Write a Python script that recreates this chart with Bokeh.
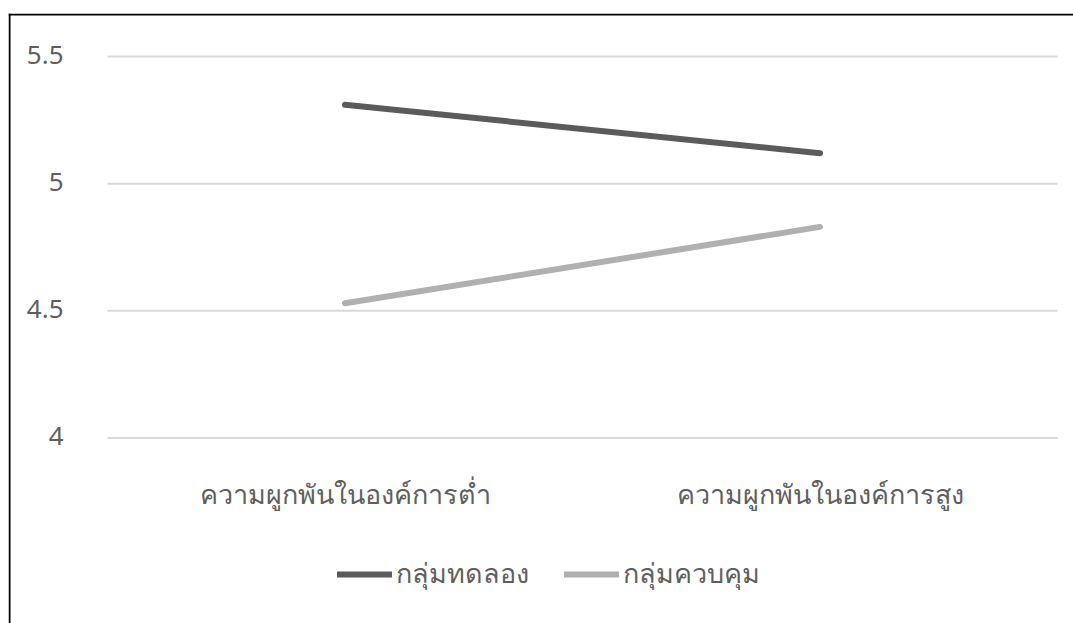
from bokeh.plotting import figure
from bokeh.models import Range1d, Legend, LegendItem, Grid
from bokeh.core.properties import value
from bokeh.embed import file_html
from bokeh.resources import INLINE

# Organisational commitment level (x) vs. mean score by group
categories = ["ความผูกพันในองค์การต่ำ", "ความผูกพันในองค์การสูง"]
experimental = [5.31, 5.12]   # กลุ่มทดลอง
control = [4.53, 4.83]        # กลุ่มควบคุม
series_names = ["กลุ่มทดลอง", "กลุ่มควบคุม"]
y_ticks = [4, 4.5, 5, 5.5]
y_tick_labels = ["4", "4.5", "5", "5.5"]

FONT = "Noto Sans"
TEXT_COLOR = "#5f5f5f"
DARK = "#5b5b5b"
LIGHT = "#b0b0b0"
GRID = "#d9d9d9"

W, H = 1073, 623
# chart box (top-left corner of the black frame) and plot area, in pixels
BOX_L, BOX_T = 8, 13
PLOT_L, PLOT_R = 107, 1057
PLOT_T, PLOT_B = 56, 437.5
Y_MIN, Y_MAX = y_ticks[0], y_ticks[-1]

n = len(categories)
x_pos = [i + 0.5 for i in range(n)]          # category centres
px_x = (PLOT_R - PLOT_L) / n                 # pixels per x unit
px_y = (PLOT_B - PLOT_T) / (Y_MAX - Y_MIN)   # pixels per y unit

def to_x(px):
    return (px - PLOT_L) / px_x

def to_y(py):
    return Y_MIN + (PLOT_B - py) / px_y

p = figure(
    width=W, height=H,
    x_range=Range1d(to_x(BOX_L), to_x(W)),
    y_range=Range1d(to_y(H), to_y(BOX_T)),
    x_axis_location=None, y_axis_location=None,
    output_backend="svg", toolbar_location=None,
    min_border_left=BOX_L, min_border_top=BOX_T,
    min_border_right=0, min_border_bottom=0,
)
p.outline_line_color = None
p.background_fill_color = "white"
p.border_fill_color = "white"
# no default grids; the value gridlines are drawn below
p.center = [r for r in p.center if not isinstance(r, Grid)]

# frame of the chart box (left and top edges)
p.segment(x0=[to_x(BOX_L + 1), to_x(BOX_L)], y0=[to_y(H), to_y(BOX_T + 1)],
          x1=[to_x(BOX_L + 1), to_x(W)], y1=[to_y(BOX_T), to_y(BOX_T + 1)],
          line_color="black", line_width=2)

# horizontal gridlines
p.segment(x0=[0] * len(y_ticks), y0=y_ticks, x1=[n] * len(y_ticks), y1=y_ticks,
          line_color=GRID, line_width=2)

# y tick labels
p.text(x=[to_x(63)] * len(y_ticks), y=y_ticks, text=y_tick_labels,
       text_font=value(FONT), text_font_size=value("26px"), text_color=TEXT_COLOR,
       text_align="right", text_baseline="middle", y_offset=-2)

# category labels
p.text(x=x_pos, y=[to_y(493)] * n, text=categories,
       text_font=value(FONT), text_font_size=value("27px"), text_color=TEXT_COLOR,
       text_align="center", text_baseline="middle")

r1 = p.line(x_pos, experimental, line_color=DARK, line_width=6, line_cap="round")
r2 = p.line(x_pos, control, line_color=LIGHT, line_width=6, line_cap="round")

legend = Legend(
    items=[LegendItem(label=series_names[0], renderers=[r1]),
           LegendItem(label=series_names[1], renderers=[r2])],
    orientation="horizontal",
    location=(337 - BOX_L, 28),
    label_text_font=FONT, label_text_font_size="27px", label_text_color=TEXT_COLOR,
    glyph_width=55, glyph_height=20, label_standoff=4, spacing=35,
    padding=0, margin=0,
    border_line_color=None, background_fill_alpha=0,
)
p.add_layout(legend, "center")

open("out.html", "w").write(file_html(p, INLINE))
